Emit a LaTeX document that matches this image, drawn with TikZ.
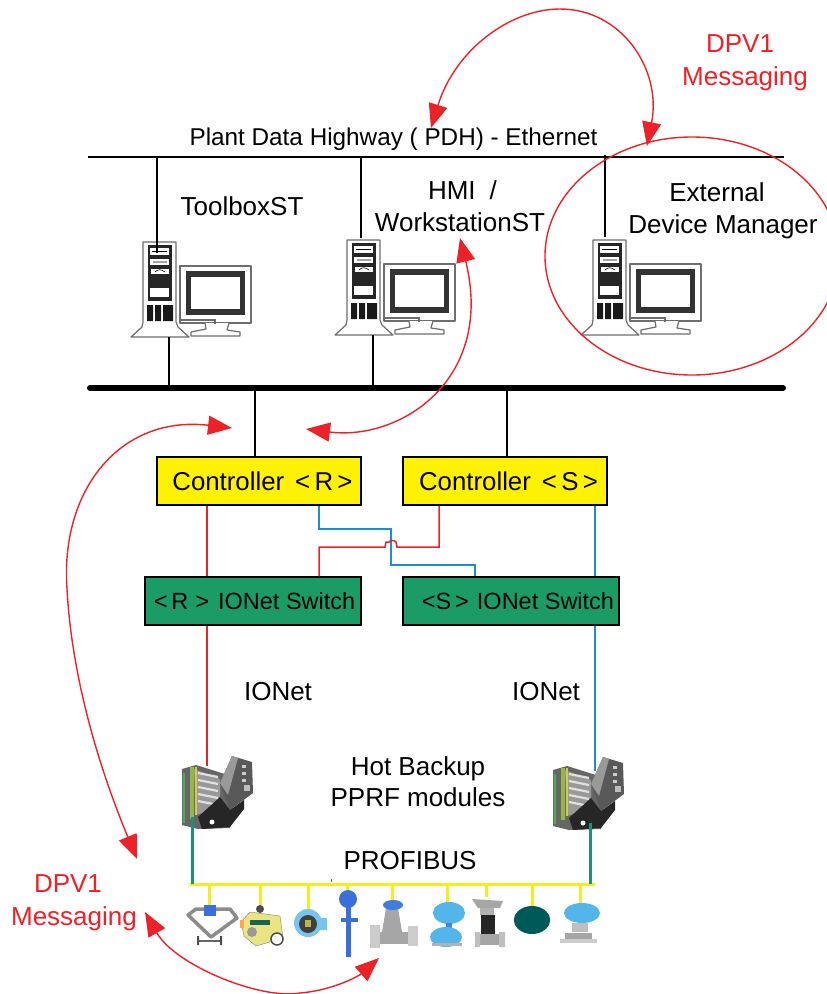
\documentclass[tikz,border=0pt]{standalone}
\usepackage{fontspec}
\setmainfont{Liberation Sans}
\usetikzlibrary{arrows.meta,calc}
\definecolor{wirered}{HTML}{ED2229}
\definecolor{wireblue}{HTML}{1B8FCB}
\definecolor{boxgreen}{HTML}{1B9C66}
\definecolor{boxyellow}{HTML}{FFF200}
\definecolor{busteal}{HTML}{1F8F7A}
\definecolor{busyellow}{HTML}{F2EE22}
\definecolor{pcgray}{HTML}{6E6E6E}
\definecolor{sky}{HTML}{52B6EA}
\definecolor{rb}{HTML}{3A6FD8}
\tikzset{
  lbl/.style={inner sep=0pt,font=\fontsize{26}{30}\selectfont,text=black},
  lblr/.style={inner sep=0pt,font=\fontsize{26}{30}\selectfont,text=wirered},
  ctrl/.style={draw=black,line width=1.5pt,fill=boxyellow,minimum width=204pt,minimum height=48pt,inner sep=0pt,font=\fontsize{25.8}{30}\selectfont},
  sw/.style={draw=black,line width=1.5pt,fill=boxgreen,minimum height=48pt,inner sep=0pt,font=\fontsize{23.5}{28}\selectfont},
  wire/.style={line width=1.3pt,draw=black},
  redw/.style={line width=1.5pt,draw=wirered},
  bluew/.style={line width=1.5pt,draw=wireblue},
  tealw/.style={line width=3pt,draw=busteal},
  yelw/.style={line width=3pt,draw=busyellow},
  msg/.style={line width=1.4pt,draw=wirered,fill=none,{Triangle[length=24pt,width=19pt,fill=wirered]}-{Triangle[length=24pt,width=19pt,fill=wirered]}},
  computer/.pic={
    \draw[pcgray,line width=1.2pt,fill=white,line join=round] (0,0) -- (33,0) -- (33,80) -- (35,85) -- (46,95) -- (-12,95) -- (-1,85) -- (0,80) -- cycle;
    \fill[black!85] (5,3) rectangle (29,59);
    \fill[white] (7,6) rectangle (26,13);
    \fill[white] (7,17) rectangle (26,23);
    \fill[white] (8,27) rectangle (26,32);
    \draw[black,line width=.6pt] (9,9.5) -- (24,9.5) (10,20) -- (24,20) (12,30) .. controls (15,27) and (18,27) .. (22,30);
    \fill[white] (7,46) rectangle (26,55);
    \fill[black!90] (4,63) rectangle (10,79) (12,63) rectangle (18,79) (20,63) rectangle (30,79);
    \draw[pcgray,line width=1.2pt,fill=white,line join=round] (37,24) rectangle (108,81);
    \fill[black!80] (43,29) rectangle (102,73);
    \fill[white] (48,35) rectangle (97,67);
    \draw[pcgray,line width=1.2pt,fill=white,line join=round] (62,81) -- (63,87) -- (48,90) -- (48,94) -- (97,94) -- (97,90) -- (84,88) -- (86,81);
    \draw[pcgray,line width=1.2pt] (37,78) -- (72,78) -- (72,82);
  },
  module/.pic={
    \fill[black!60] (0,14) -- (14,10) -- (46,20) -- (50,52) -- (48,73) -- (16,74) -- (0,70) -- cycle;
    \fill[black!40] (12,14) -- (38,24) -- (38,52) -- (14,60) -- cycle;
    \foreach \t in {18,25,32,39,46}{\draw[black!12,line width=2.2pt] (16,\t) -- (36,\t+4);}
    \fill[black!85] (38,42) -- (48,55) -- (62,45) -- (62,54) -- (48,72) -- (20,74) -- (16,62) -- cycle;
    \fill[black!65] (50,1) -- (70,7) -- (71,38) -- (48,55) -- (38,28) -- cycle;
    \fill[black!40] (50,1) -- (56,3) -- (46,40) -- (38,28) -- cycle;
    \foreach \t in {10,17,24}{\fill[black!20] (60,\t) rectangle (64,\t+3);}
    \fill[black!25] (62,30) rectangle (68,36);
    \draw[olive!60!green!70,line width=3.5pt] (10,12) -- (10,64);
    \draw[green!35!gray,line width=2pt] (2,18) -- (2,68);
    \draw[yellow!60!gray,line width=1.5pt] (14,12) -- (14,60);
    \fill[white] (30,67) circle (2.5);
  }
}
\begin{document}
\begin{tikzpicture}[x=1pt,y=-1pt]
\useasboundingbox (0,0) rectangle (827,994);
\clip (0,0) rectangle (827,994);
\fill[white] (0,0) rectangle (827,994);

% computers
\pic at (143,242) {computer};
\pic at (347,240) {computer};
\pic at (593,240) {computer};
\coordinate (pc1top) at (157,253);
\coordinate (pc1bot) at (169,337);
\coordinate (pc2top) at (361,238);
\coordinate (pc2bot) at (373,335);
\coordinate (pc3top) at (605,237);

% networks
\coordinate (pdhL) at (88,157);
\coordinate (pdhR) at (784,157);
\coordinate (busL) at (90,388);
\coordinate (busR) at (783,388);
\draw[wire] (pdhL) -- (pdhR);
\draw[black,line width=6pt,line cap=round] (busL) -- (busR);
\draw[wire] (pc1top |- pdhL) -- (pc1top);
\draw[wire] (pc2top |- pdhL) -- (pc2top);
\draw[wire] (pc3top |- pdhL) ++(0,-2) -- (pc3top);
\draw[wire] (pc1bot) -- (pc1bot |- busL);
\draw[wire] (pc2bot) -- (pc2bot |- busL);

% boxes
\node[ctrl] (ctrlR) at (259,481) {\hspace{7pt}Controller\hspace{11pt}<\,R\,>};
\node[ctrl] (ctrlS) at (505,481) {\hspace{7pt}Controller\hspace{11pt}<\,S\,>};
\node[sw,minimum width=216pt] (swR) at (253,601) {\hspace{3pt}<\,R\hspace{7pt}>\hspace{9pt}IONet Switch};
\node[sw,minimum width=216pt] (swS) at (511,601) {\hspace{14pt}<S\,>\hspace{8pt}IONet Switch};
\coordinate (xA) at (255,0);
\coordinate (xB) at (507,0);
\draw[wire] (xA |- busL) -- (xA |- ctrlR.north);
\draw[wire] (xB |- busL) -- (xB |- ctrlS.north);

% modules
\pic at (182,755) {module};
\pic at (553,756) {module};
\coordinate (modR) at (207,766);
\coordinate (modS) at (595,771);
\coordinate (modRb) at (192,817);
\coordinate (modSb) at (590.5,823);
\coordinate (pfL) at (190,884);
\coordinate (pfR) at (595,884);

% IONet wiring
\coordinate (xR) at (207,0);
\coordinate (xS) at (595,0);
\draw[redw] (xR |- ctrlR.south) -- (xR |- swR.north);
\draw[redw] (xR |- swR.south) -- (modR);
\draw[bluew] (xS |- ctrlS.south) -- (xS |- swS.north);
\draw[bluew] (xS |- swS.south) -- (modS);
\coordinate (x1) at (319,0);
\coordinate (x2) at (391,0);
\coordinate (x3) at (475,0);
\coordinate (x4) at (439,0);
\coordinate (y1) at (0,529);
\coordinate (y2) at (0,565);
\coordinate (y3) at (0,547);
\draw[bluew] (x1 |- ctrlR.south) -- (x1 |- y1) -- (x2 |- y1) -- (x2 |- y2) -- (x3 |- y2) -- (x3 |- swS.north);
\draw[redw] (x1 |- swR.north) -- (x1 |- y3) -- ++(66,0) -- ++(1,-5) -- ++(3,0) -- ++(2,-1.5) -- ++(3,0) -- ++(2,1.5) -- ++(1,5) -- (x4 |- y3) -- (x4 |- ctrlS.south);

% PROFIBUS
\draw[yelw] (pfL) -- (pfR);
\draw[tealw] (modRb) -- (modRb |- pfL);
\draw[tealw] (modSb) -- (modSb |- pfL);
\draw[busteal,line width=1pt] (331,879) -- (331,882);
\coordinate (d1) at (209,905);
\coordinate (d2) at (260,905);
\coordinate (d3) at (308,910);
\coordinate (d4) at (347,892);
\coordinate (d5) at (392,900);
\coordinate (d6) at (447,903);
\coordinate (d7) at (486,897);
\coordinate (d8) at (532,907);
\coordinate (d9) at (580,903);
\foreach \d in {d1,d2,d3,d4,d5,d6,d7,d8,d9}{\draw[yelw] (\d |- pfL) -- (\d);}

% device 1: flow meter
\draw[black!45,line width=3.5pt,line join=round] (188,915) -- (196,909) -- (230,909) -- (237,918) -- (211,937) -- cycle;
\draw[black!60,line width=2pt] (197,941) -- (221,941);
\fill[black!70] (197,936) rectangle (199,945) (220,936) rectangle (222,945);
\fill[rb] (204,905) rectangle (216,916);
% device 2: positioner
\fill[olive!40!yellow!45!white,draw=black!50] (241,922) -- (250,912) -- (280,916) -- (283,938) -- (256,946) -- (244,936) -- cycle;
\fill[black!70] (260,909) circle (4);
\fill[busteal!70!black] (250,920) rectangle (270,925);
\draw[black!70,line width=1.5pt,fill=white] (277,939) circle (6);
\fill[black!40] (252,932) circle (5);
\fill[orange!70] (240,920) rectangle (244,928);
% device 3: ring gauge
\fill[sky!80] (308,923) circle (14);
\fill[sky!80] (318,918) rectangle (327,930);
\fill[black!75] (308,924) circle (9);
\fill[olive!60] (305,920) rectangle (311,927);
% device 4: thermometer
\fill[rb] (348,899) circle (9);
\fill[rb] (346,905) rectangle (351,957);
\fill[rb] (341,918) rectangle (358,922);
% device 5: valve
\fill[black!35] (386,908) -- (398,908) -- (402,932) -- (382,932) -- cycle;
\fill[black!35] (372,932) rectangle (416,944);
\fill[black!20] (370,925) rectangle (380,948);
\fill[black!20] (408,926) rectangle (418,946);
\fill[rb!80!sky] (393,905) ellipse (10 and 5);
% device 6: transmitter
\fill[sky] (449,913) ellipse (16 and 11);
\fill[rb!70!sky] (446,923) rectangle (452,932);
\fill[sky] (446,937) ellipse (16 and 10);
\fill[black!30] (432,943) rectangle (462,946);
% device 7: control valve
\fill[black!35] (472,899) -- (503,901) -- (500,908) -- (478,908) -- cycle;
\fill[black!30] (480,908) rectangle (494,915);
\fill[black!85] (481,915) rectangle (495,934);
\fill[black!35] (478,934) rectangle (500,945);
\fill[black!25] (475,932) rectangle (480,947) (499,932) rectangle (505,947);
% device 8: teal housing
\fill[teal!70!black] (532,920) ellipse (18 and 14);
% device 9: transmitter
\fill[sky] (582,913) ellipse (18 and 10);
\fill[black!25] (572,923) rectangle (588,932);
\fill[black!35] (565,933) rectangle (592,942);
\fill[black!20] (560,939) rectangle (597,943);

% text
\node[lbl,font=\fontsize{24.3}{30}\selectfont] (t1) at (393.5,139) {Plant Data Highway ( PDH) - Ethernet};
\node[lbl] (t2) at (242,206) {ToolboxST};
\node[lbl] (t3) at (462.5,190) {HMI\hspace{14pt}/};
\node[lbl] (t4) at (460,222) {WorkstationST};
\node[lbl] (t5) at (717,192) {External};
\node[lbl] (t6) at (723,227) {Device Manager};
\node[lblr] (t7) at (740,44) {DPV1};
\node[lblr] (t8) at (745,79) {Messaging};
\node[lblr] (t9) at (68,884) {DPV1};
\node[lblr] (t10) at (74,919) {Messaging};
\node[lbl] (t11) at (278,692) {IONet};
\node[lbl] (t12) at (546,692) {IONet};
\node[lbl] (t13) at (418,769) {Hot Backup};
\node[lbl] (t14) at (418,797) {PPRF modules};
\node[lbl] (t15) at (410,861) {PROFIBUS};

% DPV1 curves
\draw[redw,line width=1.4pt] (692,256) ellipse (147 and 119);
\coordinate (m1a) at (431,128);
\coordinate (m1b) at (647,146);
\draw[msg] (m1a) .. controls (455,50) and (510,9) .. (560,9) .. controls (622,9) and (662,70) .. (m1b);
\coordinate (m2a) at (306,429);
\coordinate (m2b) at (460,238);
\draw[msg] (m2a) .. controls (400,441) and (495,380) .. (m2b);
\coordinate (m3a) at (232,428);
\coordinate (m3b) at (137,859);
\draw[msg] (m3a) .. controls (120,415) and (60,490) .. (67,589) .. controls (72,680) and (100,770) .. (m3b);
\coordinate (m4a) at (145,912);
\coordinate (m4b) at (379,958);
\draw[msg] (m4a) .. controls (175,965) and (260,1000) .. (300,993) .. controls (335,990) and (360,975) .. (m4b);
\end{tikzpicture}
\end{document}
